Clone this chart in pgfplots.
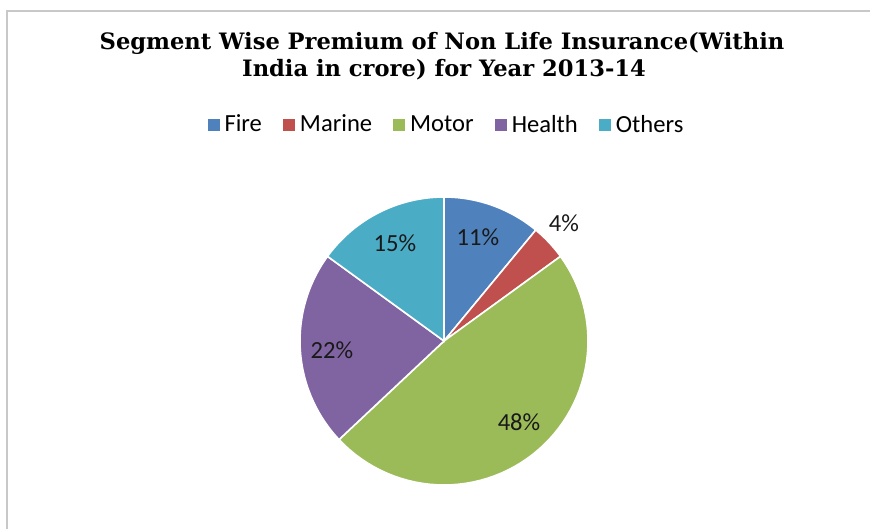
\documentclass[border=0pt]{standalone}
\usepackage{fontspec}
\setmainfont{Carlito}
\newfontfamily\titlefont{DejaVu Serif}
\usepackage{pgfplots}
\pgfplotsset{compat=1.18}
\definecolor{cfire}{HTML}{4F81BD}
\definecolor{cmarine}{HTML}{C0504D}
\definecolor{cmotor}{HTML}{9BBB59}
\definecolor{chealth}{HTML}{8064A2}
\definecolor{cothers}{HTML}{4BACC6}
\definecolor{frame}{HTML}{C8C8C8}
% Shares (%): Fire 11, Marine 4, Motor 48, Health 22, Others 15
% Slices start at 90 deg and run clockwise; 1% = 3.6 deg
\begin{document}
\begin{tikzpicture}
\begin{axis}[
  scale only axis, width=435pt, height=264.5pt,
  xmin=0, xmax=870, ymin=0, ymax=529, y dir=reverse,
  hide axis, clip=false,
  legend columns=5,
  legend style={at={(0.5126,0.7637)}, anchor=center, draw=none, fill=none,
    font=\fontsize{12.3}{14}\selectfont, inner sep=0pt,
    /tikz/every odd column/.append style={column sep=2pt},
    /tikz/every even column/.append style={column sep=10pt},
    nodes={inner xsep=0.5pt, inner ysep=0pt}},
  legend image code/.code={\fill[#1, draw=none] (0pt,-3pt) rectangle (6pt,3pt);},
  every axis plot/.append style={draw=white, line width=0.8pt, samples=60, variable=\t},
]
% frame
\addplot[draw=frame, line width=1pt, forget plot] coordinates {(7,529) (7,11) (870,11)};
% slices
\addplot[fill=cfire, domain={90-3.6*11}:90]
  ({444+144*cos(t)}, {341-144*sin(t)}) -- (axis cs:444,341) -- cycle;
\addlegendentry{Fire}
\addplot[fill=cmarine, domain={90-3.6*(11+4)}:{90-3.6*11}]
  ({444+144*cos(t)}, {341-144*sin(t)}) -- (axis cs:444,341) -- cycle;
\addlegendentry{Marine}
\addplot[fill=cmotor, domain={90-3.6*(11+4+48)}:{90-3.6*(11+4)}]
  ({444+144*cos(t)}, {341-144*sin(t)}) -- (axis cs:444,341) -- cycle;
\addlegendentry{Motor}
\addplot[fill=chealth, domain={90-3.6*(11+4+48+22)}:{90-3.6*(11+4+48)}]
  ({444+144*cos(t)}, {341-144*sin(t)}) -- (axis cs:444,341) -- cycle;
\addlegendentry{Health}
\addplot[fill=cothers, domain={90-3.6*(11+4+48+22+15)}:{90-3.6*(11+4+48+22)}]
  ({444+144*cos(t)}, {341-144*sin(t)}) -- (axis cs:444,341) -- cycle;
\addlegendentry{Others}
% title
\node[anchor=base, font=\titlefont\bfseries\fontsize{11.3}{13}\selectfont] at (axis cs:442,50)
  {Segment Wise Premium of Non Life Insurance(Within};
\node[anchor=base, font=\titlefont\bfseries\fontsize{11.3}{13}\selectfont] at (axis cs:444,77)
  {India in crore) for Year 2013-14};
% data labels
\begin{scope}[every node/.style={font=\fontsize{12.3}{14}\selectfont, text=black!90, inner sep=0pt}]
\node at (axis cs:478,237) {11\%};
\node at (axis cs:564,223) {4\%};
\node at (axis cs:519,422) {48\%};
\node at (axis cs:332,350) {22\%};
\node at (axis cs:395,243) {15\%};
\end{scope}
\end{axis}
\pgfresetboundingbox
\useasboundingbox (current axis.south west) rectangle (current axis.north east);
\end{tikzpicture}
\end{document}
